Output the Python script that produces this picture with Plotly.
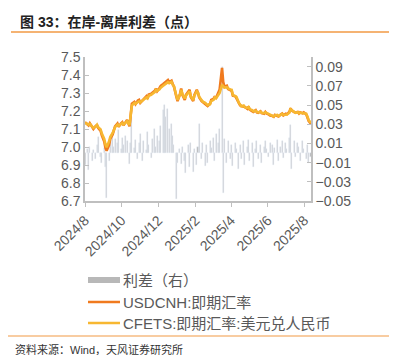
import pandas as pd
import plotly.graph_objects as go

# ---------------- data ----------------
start_date = "2024-08-01"
n_points = 135

cfets = [
    7.135, 7.130, 7.124, 7.128, 7.112, 7.105, 7.115, 7.124, 7.110, 7.098,
    7.075, 7.045, 7.015, 6.998, 7.030, 7.055, 7.078, 7.095, 7.110, 7.124,
    7.118, 7.128, 7.133, 7.125, 7.138, 7.143, 7.122, 7.180, 7.230, 7.245,
    7.240, 7.250, 7.254, 7.248, 7.258, 7.263, 7.275, 7.270, 7.285, 7.290,
    7.295, 7.305, 7.318, 7.312, 7.320, 7.330, 7.340, 7.346, 7.352, 7.360,
    7.355, 7.362, 7.345, 7.338, 7.285, 7.262, 7.290, 7.318, 7.295, 7.270,
    7.285, 7.300, 7.310, 7.282, 7.260, 7.285, 7.310, 7.302, 7.280, 7.260,
    7.252, 7.245, 7.240, 7.232, 7.238, 7.255, 7.262, 7.275, 7.270, 7.290,
    7.300, 7.345, 7.338, 7.330, 7.332, 7.325, 7.320, 7.318, 7.290, 7.280,
    7.278, 7.245, 7.235, 7.226, 7.230, 7.220, 7.217, 7.222, 7.210, 7.205,
    7.198, 7.202, 7.195, 7.192, 7.196, 7.190, 7.188, 7.193, 7.190, 7.182,
    7.178, 7.174, 7.170, 7.175, 7.178, 7.172, 7.180, 7.184, 7.178, 7.182,
    7.180, 7.190, 7.210, 7.205, 7.196, 7.190, 7.193, 7.188, 7.191, 7.189,
    7.190, 7.185, 7.170, 7.150, 7.133,
]

usdcnh = [
    7.138, 7.128, 7.120, 7.132, 7.108, 7.100, 7.118, 7.120, 7.105, 7.090,
    7.065, 7.030, 6.995, 6.980, 7.010, 7.045, 7.070, 7.100, 7.115, 7.130,
    7.112, 7.132, 7.138, 7.120, 7.142, 7.150, 7.115, 7.195, 7.240, 7.250,
    7.238, 7.258, 7.262, 7.245, 7.262, 7.270, 7.282, 7.268, 7.292, 7.296,
    7.300, 7.312, 7.325, 7.310, 7.328, 7.340, 7.350, 7.355, 7.362, 7.372,
    7.360, 7.368, 7.350, 7.335, 7.280, 7.255, 7.295, 7.325, 7.290, 7.262,
    7.290, 7.305, 7.318, 7.278, 7.255, 7.290, 7.318, 7.300, 7.275, 7.255,
    7.250, 7.242, 7.236, 7.228, 7.240, 7.262, 7.268, 7.282, 7.272, 7.300,
    7.320, 7.440, 7.360, 7.335, 7.340, 7.322, 7.318, 7.312, 7.285, 7.282,
    7.270, 7.240, 7.232, 7.228, 7.225, 7.222, 7.212, 7.225, 7.208, 7.200,
    7.195, 7.205, 7.192, 7.190, 7.198, 7.188, 7.185, 7.195, 7.186, 7.180,
    7.175, 7.172, 7.168, 7.178, 7.175, 7.170, 7.182, 7.186, 7.176, 7.185,
    7.182, 7.195, 7.215, 7.202, 7.194, 7.192, 7.195, 7.186, 7.193, 7.187,
    7.192, 7.182, 7.165, 7.145, 7.128,
]

spread = [
    -0.012, 0.004, -0.018, 0.006, -0.008, 0.003, -0.006, 0.008, 0.017, -0.004,
    -0.010, 0.005, -0.015, -0.047, -0.008, 0.012, 0.020, 0.006, 0.015, 0.010,
    0.024, 0.004, 0.016, 0.008, 0.018, 0.012, -0.011, 0.010, 0.038, 0.005,
    0.014, -0.006, 0.010, 0.020, -0.008, 0.012, 0.003, 0.022, 0.008, -0.005,
    0.015, 0.025, 0.006, 0.018, 0.012, 0.028, 0.045, 0.050, 0.038, 0.046,
    0.025, 0.030, 0.018, 0.008, -0.048, -0.010, 0.004, -0.011, 0.006, -0.008,
    -0.021, 0.008, -0.015, 0.010, -0.020, 0.004, -0.012, 0.006, 0.030, -0.006,
    0.010, -0.014, 0.008, -0.010, 0.012, 0.005, 0.016, -0.008, 0.020, 0.010,
    0.025, 0.090, -0.042, 0.015, -0.010, 0.012, -0.006, 0.008, -0.014, 0.010,
    0.004, -0.017, 0.008, -0.006, 0.012, -0.012, 0.006, 0.014, -0.008, 0.010,
    -0.015, 0.004, 0.012, -0.006, 0.008, -0.010, 0.006, 0.013, 0.004, -0.004,
    0.010, 0.008, -0.012, 0.005, 0.014, -0.008, 0.006, 0.012, -0.005, 0.010,
    0.004, 0.016, 0.029, -0.017, 0.012, -0.004, 0.010, 0.006, -0.008, 0.012,
    0.004, -0.006, 0.008, -0.010, -0.004,
]

tick_dates = ["2024-08-01", "2024-10-01", "2024-12-01", "2025-02-01",
              "2025-04-01", "2025-06-01", "2025-08-01"]
tick_labels = ["2024/8", "2024/10", "2024/12", "2025/2", "2025/4", "2025/6", "2025/8"]
left_ticks = [6.7, 6.8, 6.9, 7.0, 7.1, 7.2, 7.3, 7.4, 7.5]
right_ticks = [-0.05, -0.03, -0.01, 0.01, 0.03, 0.05, 0.07, 0.09]

name_spread = "利差（右）"
name_cnh = "USDCNH:即期汇率"
name_cfets = "CFETS:即期汇率:美元兑人民币"
title_text = "图 33：在岸-离岸利差（点）"
source_text = "资料来源：Wind，天风证券研究所"

dates = pd.bdate_range(start_date, periods=2 * n_points - 1)[::2]

# ---------------- style ----------------
W, H = 397, 355
L, R, T, B = 77, 303, 49, 193
FONT = "Liberation Sans, Arial, Noto Sans CJK SC, sans-serif"
GREY_TXT = "#595959"
AXIS = "#bfbfbf"
C_BAR = "#b8b8b8"
C_CNH = "#f07a1e"
C_CFETS = "#f7b731"
C_RULE = "#f29a45"


def px(x):
    return (x - L) / (R - L)


def py(y):
    return (B - y) / (B - T)


fig = go.Figure()
fig.add_trace(go.Bar(x=dates, y=spread, name=name_spread, marker_color=C_BAR,
                     width=1.7 * 86400000, yaxis="y", showlegend=False))
fig.add_trace(go.Scatter(x=dates, y=usdcnh, name=name_cnh, mode="lines",
                         line=dict(color=C_CNH, width=2.6), yaxis="y2", showlegend=False))
fig.add_trace(go.Scatter(x=dates, y=cfets, name=name_cfets, mode="lines",
                         line=dict(color=C_CFETS, width=2.6), yaxis="y2", showlegend=False))

fig.update_layout(
    width=W, height=H,
    margin=dict(l=L, r=W - R, t=T, b=H - B),
    paper_bgcolor="white", plot_bgcolor="white",
    font=dict(family=FONT, size=14, color=GREY_TXT),
    bargap=0,
    xaxis=dict(type="date", range=[dates[0], dates[-1]], tickvals=tick_dates,
               ticktext=tick_labels, tickangle=-45, showgrid=False,
               showline=True, linecolor=AXIS, linewidth=1.5, ticks="outside",
               ticklen=4, tickcolor=AXIS, tickfont=dict(size=14, color=GREY_TXT),
               zeroline=False, automargin=False),
    yaxis=dict(range=[-0.05, 0.10], tickvals=right_ticks, tickformat=".2f",
               side="right", showgrid=False, zeroline=False, showline=True,
               linecolor=AXIS, linewidth=1.5, ticks="inside", ticklen=4,
               tickcolor=AXIS, tickfont=dict(size=14, color=GREY_TXT),
               automargin=False),
    yaxis2=dict(range=[6.7, 7.5], tickvals=left_ticks, tickformat=".1f",
                side="left", overlaying="y", showgrid=False, zeroline=False,
                showline=True, linecolor=AXIS, linewidth=1.5, ticks="inside",
                ticklen=4, tickcolor=AXIS, tickfont=dict(size=14, color=GREY_TXT),
                automargin=False),
    showlegend=False,
)

shapes = [
    dict(type="line", xref="paper", yref="paper", x0=px(3), x1=px(389),
         y0=py(24), y1=py(24), line=dict(color=C_RULE, width=1.5)),
    dict(type="line", xref="paper", yref="paper", x0=px(0), x1=px(389),
         y0=py(328), y1=py(328), line=dict(color=C_RULE, width=1.2)),
    dict(type="rect", xref="paper", yref="paper", x0=px(80), x1=px(112),
         y0=py(275), y1=py(269), fillcolor=C_BAR, line=dict(width=0)),
    dict(type="line", xref="paper", yref="paper", x0=px(80), x1=px(112),
         y0=py(294), y1=py(294), line=dict(color=C_CNH, width=2.5)),
    dict(type="line", xref="paper", yref="paper", x0=px(80), x1=px(112),
         y0=py(315), y1=py(315), line=dict(color=C_CFETS, width=2.5)),
]

annotations = [
    dict(text=f"<b>{title_text}</b>", x=px(10), y=py(14), xref="paper", yref="paper",
         xanchor="left", yanchor="middle", showarrow=False,
         font=dict(size=14, color="#222222", family=FONT)),
    dict(text=source_text, x=px(5), y=py(341), xref="paper", yref="paper",
         xanchor="left", yanchor="middle", showarrow=False,
         font=dict(size=11, color="#333333", family=FONT)),
]
for label, yy in [(name_spread, 272), (name_cnh, 294), (name_cfets, 315)]:
    annotations.append(dict(text=label, x=px(113), y=py(yy), xref="paper", yref="paper",
                            xanchor="left", yanchor="middle", showarrow=False,
                            font=dict(size=15, color=GREY_TXT, family=FONT)))

fig.update_layout(shapes=shapes, annotations=annotations)
fig.write_html("out.html")
